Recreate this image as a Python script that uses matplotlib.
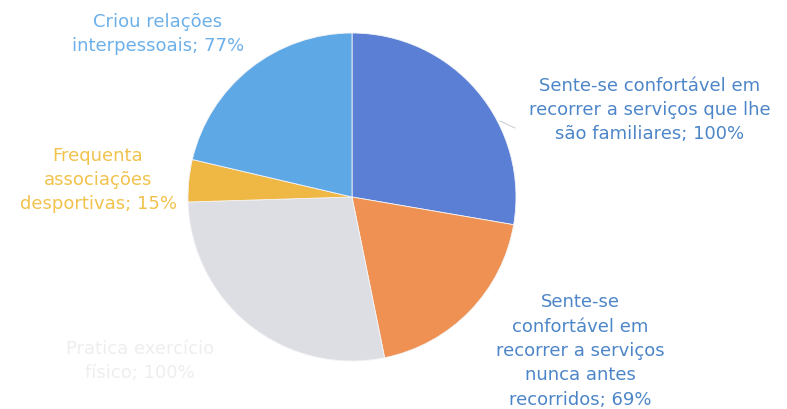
import matplotlib.pyplot as plt

labels = [
    "Sente-se confortável em\nrecorrer a serviços que lhe\nsão familiares; 100%",
    "Sente-se\nconfortável em\nrecorrer a serviços\nnunca antes\nrecorridos; 69%",
    "Pratica exercício\nfísico; 100%",
    "Frequenta\nassociações\ndesportivas; 15%",
    "Criou relações\ninterpessoais; 77%",
]
values = [100, 69, 100, 15, 77]
colors = ["#5a7fd4", "#ee9152", "#dddee4", "#efb743", "#5ea8e6"]
text_colors = ["#4d86c8", "#4d86c8", "#eeeef1", "#f1c24c", "#6cb0ea"]

W, H = 787, 409
CX, CY, R = 352, 197, 164


def px(x, y):
    """pixel (topo-esquerda) -> coordenadas dos dados"""
    return (x - CX) / R, (CY - y) / R


fig = plt.figure(figsize=(W / 100, H / 100), dpi=100)
ax = fig.add_axes([0, 0, 1, 1])
ax.pie(values, colors=colors, startangle=90, counterclock=False, radius=1,
       wedgeprops=dict(linewidth=0.6, edgecolor="#f4f4f6"))
ax.set_xlim(-CX / R, (W - CX) / R)
ax.set_ylim(-(H - CY) / R, CY / R)
ax.set_aspect("auto")
ax.axis("off")

# posições das etiquetas (pixels)
label_pos = [(650, 110), (580, 351), (140, 361), (98, 180), (158, 34)]
for text, col, (x, y) in zip(labels, text_colors, label_pos):
    ax.text(*px(x, y), text, color=col, fontsize=13, ha="center", va="center",
            linespacing=1.45, family="DejaVu Sans")

# linha de ligação da primeira etiqueta
ax.plot(*zip(px(500, 121), px(515, 128)), color="#c9ccd6", linewidth=0.7)

fig.savefig("out.png", dpi=100)
